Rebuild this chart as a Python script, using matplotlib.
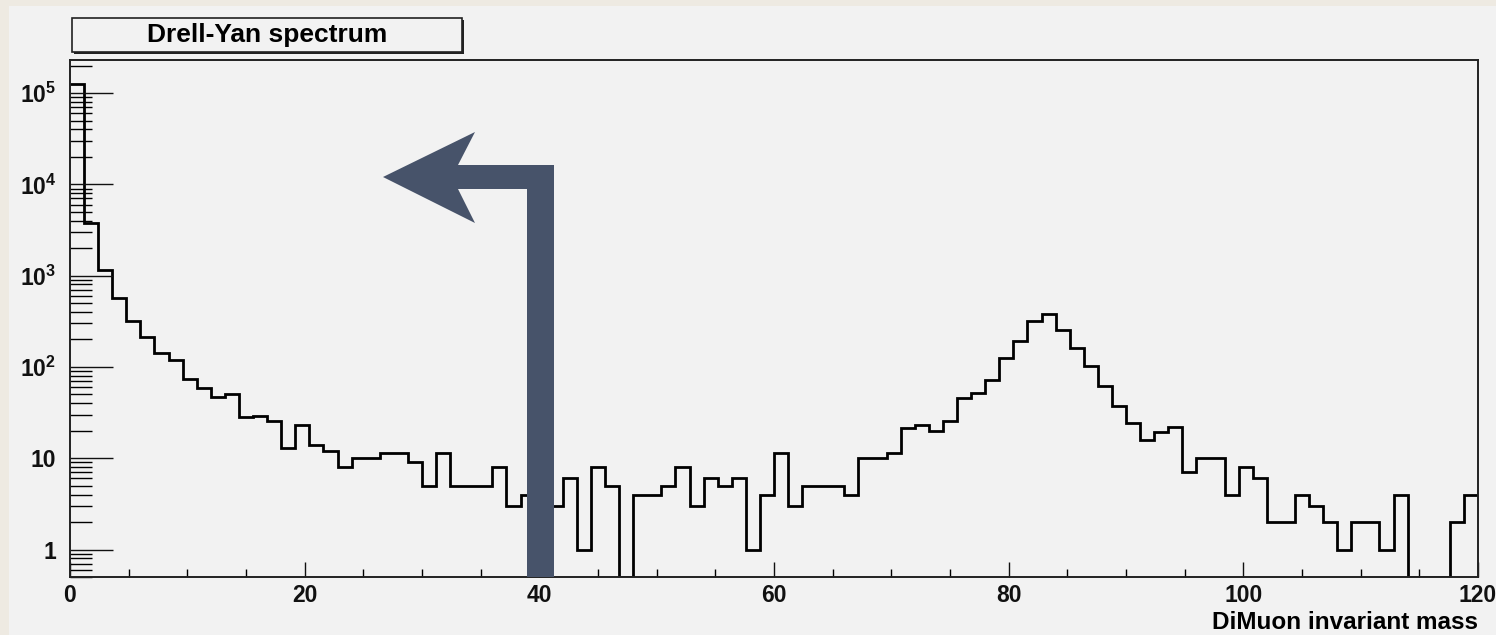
import numpy as np
import matplotlib
matplotlib.use("Agg")
import matplotlib.pyplot as plt
from matplotlib.patches import Rectangle, Polygon
from matplotlib.ticker import MultipleLocator, LogLocator, NullFormatter, FuncFormatter

# histogram: 100 bins of 1.2 from 0 to 120
x_min = 0.0
x_max = 120.0
n_bins = 100
counts = [125000, 3800, 1150, 570, 320, 215, 143, 120, 74, 59,
          47, 51, 28.5, 29.3, 25.8, 13, 23, 14, 12, 8,
          10, 10, 11.5, 11.5, 9.2, 5, 11.5, 5, 5, 5,
          8, 3, 4, 4, 3, 6, 1, 8, 5, 0,
          4, 4, 5, 8, 3, 6, 5, 6, 1, 4,
          11.5, 3, 5, 5, 5, 4, 10, 10, 11.5, 21.6,
          23.3, 20, 25.8, 46, 52, 72, 126, 194, 320, 382,
          255, 162, 103, 62, 37, 24.5, 16, 19.5, 22, 7,
          10, 10, 4, 8, 6, 2, 2, 4, 3, 2,
          1, 2, 2, 1, 4, 0, 0, 0, 2, 4]
title = "Drell-Yan spectrum"
x_title = "DiMuon invariant mass"
x_ticks = [0, 20, 40, 60, 80, 100, 120]

plt.rcParams['font.family'] = ['Liberation Sans', 'DejaVu Sans']
plt.rcParams['font.weight'] = 'bold'
plt.rcParams['mathtext.fontset'] = 'custom'
plt.rcParams['mathtext.rm'] = 'Liberation Sans:bold'
plt.rcParams['mathtext.bf'] = 'Liberation Sans:bold'
plt.rcParams['mathtext.it'] = 'Liberation Sans:bold'

W, H = 1496, 635
fig = plt.figure(figsize=(W / 100, H / 100), dpi=100, facecolor='#eeeae2')

def fpx(x, y):
    # pixel position (from top-left) -> figure fraction
    return (x / W, 1 - y / H)

# light grey canvas like the ROOT pad
fig.add_artist(Rectangle(fpx(9, H), 1, (H - 6) / H, transform=fig.transFigure,
                         facecolor='#f2f2f2', edgecolor='none', zorder=-1))

ax = fig.add_axes([70 / W, (H - 577) / H, 1408 / W, 517 / H])
ax.set_facecolor('#f2f2f2')

edges = np.linspace(x_min, x_max, n_bins + 1)
y_low, y_high = 0.5, 2.3e5
vals = np.clip(np.array(counts, dtype=float), y_low, None)  # empty bins sit on the floor
ax.stairs(vals, edges, color='black', linewidth=2.0, baseline=None)

ax.set_yscale('log')
ax.set_xlim(x_min, x_max)
ax.set_ylim(y_low, y_high)

for s in ['top', 'right', 'bottom', 'left']:
    ax.spines[s].set_linewidth(1.4)
    ax.spines[s].set_color('#222222')

ax.xaxis.set_major_locator(plt.FixedLocator(x_ticks))
ax.xaxis.set_minor_locator(MultipleLocator(5))
ax.yaxis.set_major_locator(LogLocator(base=10, numticks=20))
ax.yaxis.set_minor_locator(LogLocator(base=10, subs=np.arange(2, 10), numticks=20))
ax.yaxis.set_minor_formatter(NullFormatter())

def ylab(v, pos):
    e = int(round(np.log10(v)))
    if e == 0:
        return "1"
    if e == 1:
        return "10"
    return r"$10^{%d}$" % e

ax.yaxis.set_major_formatter(FuncFormatter(ylab))

ax.tick_params(axis='x', which='major', direction='in', length=11, width=1.0,
               labelsize=16.5, pad=5, top=False, colors='#111111')
ax.tick_params(axis='x', which='minor', direction='in', length=5.5, width=1.0, top=False)
ax.tick_params(axis='y', which='major', direction='in', length=31, width=1.0,
               labelsize=16.5, pad=10, right=False, colors='#111111')
ax.tick_params(axis='y', which='minor', direction='in', length=16, width=1.0, right=False)

ax.set_xlabel(x_title, loc='right', fontsize=17.5, fontweight='bold', labelpad=3)

# title box with a small shadow
fig.add_artist(Rectangle(fpx(74, 54), 390 / W, 34 / H, transform=fig.transFigure,
                         facecolor='#222222', edgecolor='none', zorder=3))
fig.add_artist(Rectangle(fpx(72, 52), 390 / W, 34 / H, transform=fig.transFigure,
                         facecolor='#f2f2f2', edgecolor='#222222', linewidth=1.2, zorder=4))
fig.text(*fpx(267, 35), title, ha='center', va='center', fontsize=19,
         fontweight='bold', zorder=5)

# the bent arrow drawn over the plot
arrow_pts = [(383, 177), (475, 132), (458, 165), (554, 165), (554, 577),
             (527, 577), (527, 189), (458, 189), (475, 223)]
fig.add_artist(Polygon([fpx(x, y) for x, y in arrow_pts], closed=True,
                       transform=fig.transFigure, facecolor='#47536a',
                       edgecolor='none', zorder=6))

fig.savefig("out.png", dpi=100, facecolor=fig.get_facecolor())
